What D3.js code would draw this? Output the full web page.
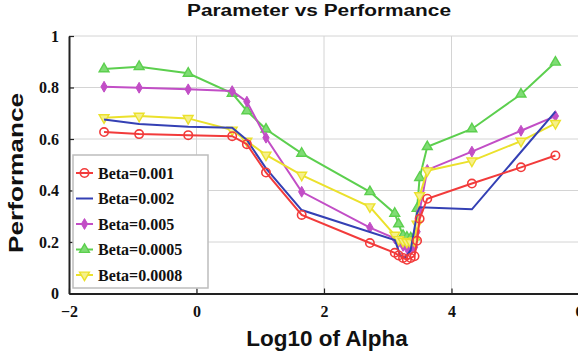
<!DOCTYPE html>
<html><head><meta charset="utf-8">
<script src="https://cdn.jsdelivr.net/npm/d3@7"></script>
<style>body{margin:0;background:#fff}svg{display:block}</style>
</head><body><svg id="c" width="578" height="354"></svg>
<script>
const xTicks = [-2, 0, 2, 4, 6];
const yTicks = [0, 0.2, 0.4, 0.6, 0.8, 1];
const yTickLabels = ["0", "0.2", "0.4", "0.6", "0.8", "1"];
const seriesNames = ["Beta=0.001", "Beta=0.002", "Beta=0.005", "Beta=0.0005", "Beta=0.0008"];
const alphaLog = [-1.45, -0.9, -0.13, 0.56, 0.79, 1.09, 1.65, 2.72, 3.11, 3.17, 3.24, 3.3, 3.36, 3.42, 3.46, 3.5, 3.62, 4.32, 5.09, 5.63];
const beta0001 = [0.627, 0.619, 0.615, 0.611, 0.58, 0.47, 0.305, 0.196, 0.158, 0.148, 0.138, 0.131, 0.138, 0.145, 0.205, 0.29, 0.368, 0.427, 0.49, 0.536];
const beta0005 = [0.803, 0.799, 0.793, 0.786, 0.745, 0.605, 0.395, 0.256, 0.214, 0.2, 0.185, 0.176, 0.17, 0.18, 0.24, 0.32, 0.48, 0.551, 0.632, 0.689];
const beta00005 = [0.872, 0.881, 0.855, 0.777, 0.709, 0.638, 0.544, 0.395, 0.311, 0.27, 0.225, 0.218, 0.215, 0.22, 0.33, 0.45, 0.57, 0.639, 0.774, 0.898];
const beta00008 = [0.683, 0.689, 0.68, 0.635, 0.592, 0.538, 0.46, 0.337, 0.227, 0.21, 0.203, 0.2, 0.198, 0.205, 0.27, 0.38, 0.477, 0.515, 0.592, 0.661];
const alphaLogB2 = [-1.45, -0.9, -0.13, 0.56, 0.79, 1.09, 1.65, 3.11, 3.2, 3.28, 3.36, 3.46, 3.5, 4.32, 5.63];
const beta0002 = [0.676, 0.658, 0.648, 0.644, 0.596, 0.486, 0.324, 0.208, 0.146, 0.141, 0.169, 0.311, 0.335, 0.327, 0.706];

const svg = d3.select("#c");
const L = 69, R = 579, T = 36, B = 293.5;
const x = d3.scaleLinear().domain([-2, 6]).range([L, R]);
const y = d3.scaleLinear().domain([0, 1]).range([B, T]);

// grid
const g = svg.append("g");
g.selectAll(".gx").data(xTicks.slice(1)).enter().append("line")
  .attr("x1", d => x(d)).attr("x2", d => x(d)).attr("y1", T).attr("y2", B)
  .attr("stroke", "#d4d4d4").attr("stroke-width", 1);
g.selectAll(".gy").data(yTicks.slice(1)).enter().append("line")
  .attr("x1", L).attr("x2", R).attr("y1", d => y(d)).attr("y2", d => y(d))
  .attr("stroke", "#d4d4d4").attr("stroke-width", 1);

// axes
const xAxis = d3.axisBottom(x).tickValues(xTicks).tickSizeInner(-5).tickSizeOuter(0).tickPadding(12).tickFormat(d3.format("d"));
const yAxis = d3.axisLeft(y).tickValues(yTicks).tickSizeInner(-5).tickSizeOuter(0).tickPadding(10).tickFormat((d, i) => yTickLabels[i]);
const ax = svg.append("g").attr("transform", `translate(0,${B})`).call(xAxis);
const ay = svg.append("g").attr("transform", `translate(${L},0)`).call(yAxis);
[ax, ay].forEach(a => {
  a.select(".domain").attr("stroke", "#222").attr("stroke-width", 2);
  a.selectAll(".tick line").attr("stroke", "#222").attr("stroke-width", 1.2);
  a.selectAll("text").attr("font-family", "'Liberation Serif', serif").attr("font-weight", "bold")
    .attr("font-size", 16).attr("fill", "#111");
});

const series = [
  {name: seriesNames[0], xs: alphaLog, ys: beta0001, color: "#f23b3b", marker: "circle"},
  {name: seriesNames[1], xs: alphaLogB2, ys: beta0002, color: "#3440b4", marker: "none"},
  {name: seriesNames[2], xs: alphaLog, ys: beta0005, color: "#c24ec6", marker: "dot"},
  {name: seriesNames[3], xs: alphaLog, ys: beta00005, color: "#5ccf4e", marker: "tri"},
  {name: seriesNames[4], xs: alphaLog, ys: beta00008, color: "#ebe12c", marker: "tridown"}
];
const drawOrder = [3, 2, 4, 1, 0];

function marker(sel, s, cx, cy) {
  if (s.marker === "circle") {
    sel.append("circle").attr("cx", cx).attr("cy", cy).attr("r", 4.2)
      .attr("fill", "none").attr("stroke", s.color).attr("stroke-width", 1.6);
  } else if (s.marker === "dot") {
    sel.append("path").attr("d", d3.symbol(d3.symbolDiamond, 34)()).attr("transform", `translate(${cx},${cy})`)
      .attr("fill", s.color).attr("stroke", s.color).attr("stroke-width", 1);
  } else if (s.marker === "tri") {
    sel.append("path").attr("d", d3.symbol(d3.symbolTriangle, 42)()).attr("transform", `translate(${cx},${cy})`)
      .attr("fill", "#7fdc74").attr("stroke", s.color).attr("stroke-width", 1.4);
  } else if (s.marker === "tridown") {
    sel.append("path").attr("d", d3.symbol(d3.symbolTriangle, 42)()).attr("transform", `translate(${cx},${cy}) rotate(180)`)
      .attr("fill", "#f6f08a").attr("stroke", s.color).attr("stroke-width", 1.4);
  }
}

const line = d3.line().x(d => x(d[0])).y(d => y(d[1]));
drawOrder.forEach(i => {
  const s = series[i];
  const pts = s.xs.map((v, k) => [v, s.ys[k]]);
  const gs = svg.append("g");
  gs.append("path").attr("d", line(pts)).attr("fill", "none").attr("stroke", s.color).attr("stroke-width", 2);
  pts.forEach(p => marker(gs, s, x(p[0]), y(p[1])));
});

// legend
const lg = svg.append("g");
lg.append("rect").attr("x", 73).attr("y", 155).attr("width", 135).attr("height", 133)
  .attr("fill", "#fff").attr("stroke", "#bdbdbd").attr("stroke-width", 1.5);
series.forEach((s, i) => {
  const cy = 173 + i * 25.5;
  lg.append("line").attr("x1", 76).attr("x2", 93).attr("y1", cy).attr("y2", cy).attr("stroke", s.color).attr("stroke-width", 2);
  marker(lg, s, 84.5, cy);
  lg.append("text").attr("x", 98).attr("y", cy + 5.5).text(s.name)
    .attr("font-family", "'Liberation Serif', serif").attr("font-weight", "bold").attr("font-size", 16).attr("fill", "#111");
});

// titles
svg.append("text").attr("x", 319).attr("y", 16).attr("text-anchor", "middle").text("Parameter vs Performance")
  .attr("textLength", 264).attr("lengthAdjust", "spacingAndGlyphs")
  .attr("font-family", "'Liberation Sans', Arial, sans-serif").attr("font-weight", "bold").attr("font-size", 16).attr("fill", "#111");
svg.append("text").attr("x", 327).attr("y", 346).attr("text-anchor", "middle").text("Log10 of Alpha")
  .attr("font-family", "'Liberation Sans', Arial, sans-serif").attr("font-weight", "bold").attr("font-size", 22.5).attr("fill", "#111");
svg.append("text").attr("transform", "translate(23,173) rotate(-90)").attr("text-anchor", "middle").text("Performance")
  .attr("textLength", 160).attr("lengthAdjust", "spacingAndGlyphs")
  .attr("font-family", "'Liberation Sans', Arial, sans-serif").attr("font-weight", "bold").attr("font-size", 21).attr("fill", "#111");
</script></body></html>
